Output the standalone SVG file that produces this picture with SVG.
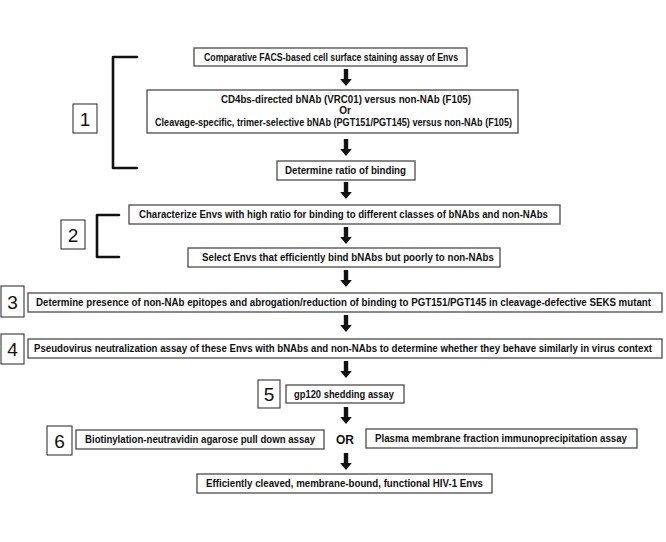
<svg xmlns="http://www.w3.org/2000/svg" width="666" height="542" viewBox="0 0 666 542">
<defs>
<style>
.box{fill:#fff;stroke:#4a4a4a;stroke-width:1.3}
.num{fill:#fff;stroke:#222;stroke-width:1}
.t{font-family:"Liberation Sans",Arial,sans-serif;font-weight:bold;font-size:11px;fill:#111;text-anchor:start}
.tb{font-size:10px}
.n{font-family:"Liberation Sans",Arial,sans-serif;font-size:19px;fill:#111;text-anchor:middle}
.br{fill:none;stroke:#111;stroke-width:2.6;stroke-linejoin:round;stroke-linecap:round}
.ar{fill:#111}
</style>
<path id="arr" d="M-2.2,0 H2.2 V10 H5.8 L0,17 L-5.8,10 H-2.2 Z"/>
</defs>
<rect width="666" height="542" fill="#fff"/>
<g id="connectors">
<use href="#arr" class="ar" x="346" y="69"/>
<use href="#arr" class="ar" x="346" y="139"/>
<use href="#arr" class="ar" x="346" y="182"/>
<use href="#arr" class="ar" x="346" y="227"/>
<use href="#arr" class="ar" x="346" y="270"/>
<use href="#arr" class="ar" x="346" y="315"/>
<use href="#arr" class="ar" x="346" y="361"/>
<use href="#arr" class="ar" x="346" y="407"/>
<use href="#arr" class="ar" x="346" y="453"/>
</g>
<g id="bracket1"><path class="br" d="M137,57 H113 V168 H137"/></g>
<g id="bracket2"><path class="br" d="M119,215 H97 V257 H119"/></g>
<g id="step1"><rect class="num" x="73" y="104" width="24" height="29"/><text class="n" x="85" y="125.5">1</text></g>
<g id="step2"><rect class="num" x="61" y="220" width="24" height="29"/><text class="n" x="73" y="241.5">2</text></g>
<g id="step3"><rect class="num" x="1" y="286" width="23" height="31"/><text class="n" x="12.5" y="308.5">3</text></g>
<g id="step4"><rect class="num" x="1" y="334" width="23" height="30"/><text class="n" x="12.5" y="356">4</text></g>
<g id="step5"><rect class="num" x="258" y="380" width="22" height="28"/><text class="n" x="269" y="401">5</text></g>
<g id="step6"><rect class="num" x="47" y="426" width="25" height="29"/><text class="n" x="59.5" y="447.5">6</text></g>
<g id="nodeA"><rect class="box" x="194" y="48" width="273" height="18"/><text class="t" transform="translate(204,60.8) scale(0.75,1)" textLength="338.7" lengthAdjust="spacingAndGlyphs">Comparative FACS-based cell surface staining assay of Envs</text></g>
<g id="nodeB"><rect class="box" x="147" y="90" width="371" height="43"/>
<text class="t tb" transform="translate(221,102.5) scale(0.75,1)" textLength="333.3" lengthAdjust="spacingAndGlyphs">CD4bs-directed bNAb (VRC01) versus non-NAb (F105)</text>
<text class="t tb" x="345" y="114.2" style="text-anchor:middle">Or</text>
<text class="t tb" transform="translate(155,125.8) scale(0.75,1)" textLength="476" lengthAdjust="spacingAndGlyphs">Cleavage-specific, trimer-selective bNAb (PGT151/PGT145) versus non-NAb (F105)</text></g>
<g id="nodeC"><rect class="box" x="277" y="161" width="138" height="19"/><text class="t" transform="translate(285,174.3) scale(0.75,1)" textLength="161.3" lengthAdjust="spacingAndGlyphs">Determine ratio of binding</text></g>
<g id="nodeD"><rect class="box" x="129" y="205" width="431" height="19"/><text class="t" transform="translate(139,218.3) scale(0.75,1)" textLength="545.3" lengthAdjust="spacingAndGlyphs">Characterize Envs with high ratio for binding to different classes of bNAbs and non-NAbs</text></g>
<g id="nodeE"><rect class="box" x="188" y="248" width="312" height="19"/><text class="t" transform="translate(202,261.3) scale(0.75,1)" textLength="389.3" lengthAdjust="spacingAndGlyphs">Select Envs that efficiently bind bNAbs but poorly to non-NAbs</text></g>
<g id="nodeF"><rect class="box" x="28" y="293" width="634" height="19"/><text class="t" transform="translate(36,306.3) scale(0.75,1)" textLength="820" lengthAdjust="spacingAndGlyphs">Determine presence of non-NAb epitopes and abrogation/reduction of binding to PGT151/PGT145 in cleavage-defective SEKS mutant</text></g>
<g id="nodeG"><rect class="box" x="28" y="339" width="634" height="19"/><text class="t" transform="translate(34,352.3) scale(0.75,1)" textLength="824" lengthAdjust="spacingAndGlyphs">Pseudovirus neutralization assay of these Envs with bNAbs and non-NAbs to determine whether they behave similarly in virus context</text></g>
<g id="nodeH"><rect class="box" x="286" y="385" width="118" height="18"/><text class="t" transform="translate(294,397.8) scale(0.75,1)" textLength="133.3" lengthAdjust="spacingAndGlyphs">gp120 shedding assay</text></g>
<g id="nodeI"><rect class="box" x="76" y="430" width="248" height="19"/><text class="t" transform="translate(85,443.3) scale(0.75,1)" textLength="306.7" lengthAdjust="spacingAndGlyphs">Biotinylation-neutravidin agarose pull down assay</text></g>
<g id="or"><text class="t" x="345" y="444" style="text-anchor:middle;font-size:12px">OR</text></g>
<g id="nodeJ"><rect class="box" x="366" y="429" width="271" height="19"/><text class="t" transform="translate(375,442.3) scale(0.75,1)" textLength="336" lengthAdjust="spacingAndGlyphs">Plasma membrane fraction immunoprecipitation assay</text></g>
<g id="nodeK"><rect class="box" x="197" y="474" width="295" height="19"/><text class="t" transform="translate(206,487.3) scale(0.75,1)" textLength="369.3" lengthAdjust="spacingAndGlyphs">Efficiently cleaved, membrane-bound, functional HIV-1 Envs</text></g>
</svg>
